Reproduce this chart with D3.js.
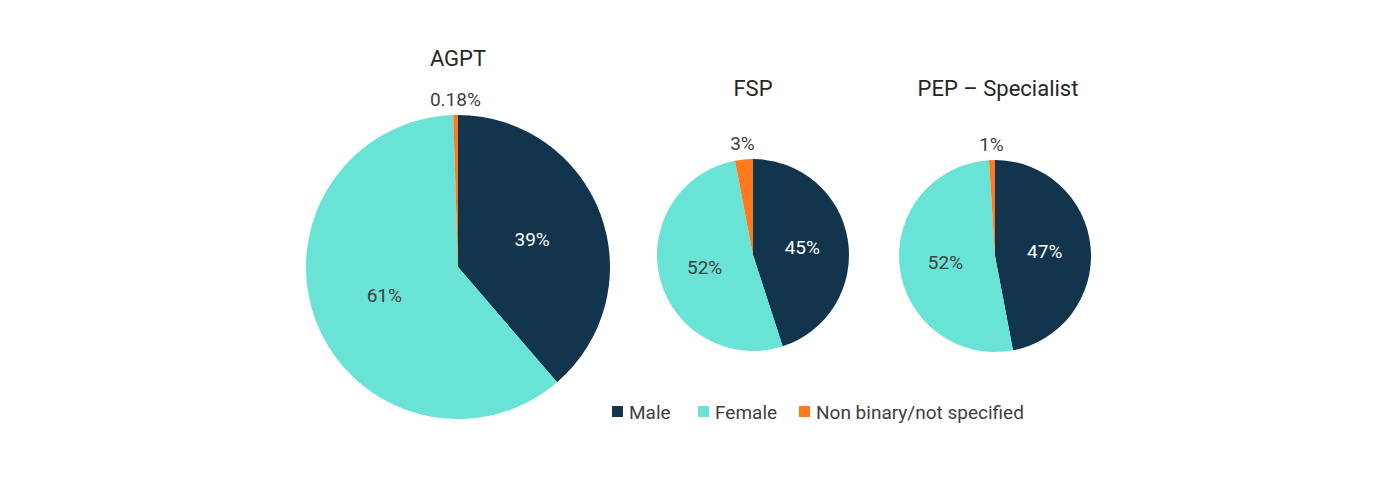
<!DOCTYPE html>
<html>
<head>
<meta charset="utf-8">
<script src="https://cdn.jsdelivr.net/npm/d3@7"></script>
<style>
  body { margin: 0; background: #fff; }
  svg text { font-family: Roboto, "Noto Sans", sans-serif; }
</style>
</head>
<body>
<div id="chart"></div>
<script>
// categories and colours
const categories = ["Male", "Female", "Non binary/not specified"];
const colours = ["#12344D", "#68E3D6", "#FF7A1F"];

// one pie per programme
const programmes = ["AGPT", "FSP", "PEP \u2013 Specialist"];
const agptValues = [38.7, 60.8, 0.5];
const fspValues = [45, 52, 3];
const pepValues = [47, 52, 1];
const agptLabels = ["39%", "61%", "0.18%"];
const fspLabels = ["45%", "52%", "3%"];
const pepLabels = ["47%", "52%", "1%"];

const width = 1400, height = 480;

let svg = d3.select("#chart").append("svg")
  .attr("width", width)
  .attr("height", height);

// layout of each pie
let pies = [
  {name: programmes[0], values: agptValues, labels: agptLabels, cx: 458, cy: 267, r: 152, titleX: 458, titleY: 58},
  {name: programmes[1], values: fspValues, labels: fspLabels, cx: 753, cy: 255, r: 96, titleX: 753, titleY: 88},
  {name: programmes[2], values: pepValues, labels: pepLabels, cx: 995, cy: 256, r: 96, titleX: 998, titleY: 88}
];

let pie = d3.pie().sort(null).value(d => d);

pies.forEach(p => {
  let g = svg.append("g")
    .attr("transform", "translate(" + p.cx + "," + p.cy + ")");

  let arc = d3.arc().innerRadius(0).outerRadius(p.r);
  let inner = d3.arc().innerRadius(p.r * 0.52).outerRadius(p.r * 0.52);
  let outer = d3.arc().innerRadius(p.r + 16).outerRadius(p.r + 16);

  let arcs = pie(p.values);

  g.selectAll("path")
    .data(arcs)
    .enter().append("path")
      .attr("d", arc)
      .attr("fill", (d, i) => colours[i]);

  g.selectAll("text.lbl")
    .data(arcs)
    .enter().append("text")
      .attr("class", "lbl")
      .attr("transform", (d, i) => {
        let c = (i == 2 ? outer : inner).centroid(d);
        return "translate(" + c[0] + "," + c[1] + ")";
      })
      .attr("text-anchor", "middle")
      .attr("dy", "0.35em")
      .style("font-size", "19px")
      .attr("fill", (d, i) => i == 0 ? "#ffffff" : "#404040")
      .text((d, i) => p.labels[i]);

  // title
  svg.append("text")
    .attr("x", p.titleX)
    .attr("y", p.titleY)
    .attr("text-anchor", "middle")
    .attr("dy", "0.35em")
    .style("font-size", "22px")
    .attr("fill", "#262626")
    .text(p.name);
});

// legend
let legendX = [612, 698, 799];
let legend = svg.append("g");
categories.forEach((c, i) => {
  legend.append("rect")
    .attr("x", legendX[i])
    .attr("y", 406)
    .attr("width", 11)
    .attr("height", 11)
    .attr("fill", colours[i]);
  legend.append("text")
    .attr("x", legendX[i] + 17)
    .attr("y", 412)
    .attr("dy", "0.35em")
    .style("font-size", "19px")
    .attr("fill", "#404040")
    .text(c);
});
</script>
</body>
</html>
